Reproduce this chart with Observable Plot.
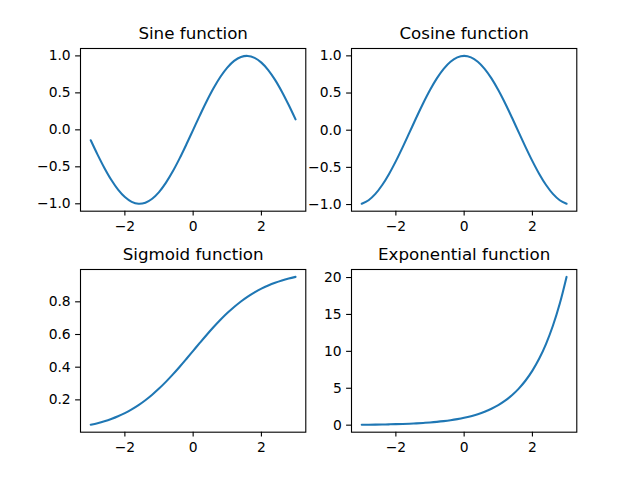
<!DOCTYPE html>
<html>
<head>
<meta charset="utf-8">
<script src="https://cdn.jsdelivr.net/npm/d3@7"></script>
<script src="https://cdn.jsdelivr.net/npm/@observablehq/plot@0.6"></script>
<style>
  html, body { margin: 0; padding: 0; background: white; }
  #fig { position: relative; width: 640px; height: 480px; background: white; overflow: hidden; }
  #fig > svg { position: absolute; }
</style>
</head>
<body>
<div id="fig"></div>
<script>
// ---- data ----
const xs = [-3.0, -2.8, -2.6, -2.4, -2.2, -2.0, -1.8, -1.6, -1.4, -1.2, -1.0, -0.8, -0.6, -0.4, -0.2, 0.0,
            0.2, 0.4, 0.6, 0.8, 1.0, 1.2, 1.4, 1.6, 1.8, 2.0, 2.2, 2.4, 2.6, 2.8, 3.0];
const sineValues = [-0.1411, -0.3350, -0.5155, -0.6755, -0.8085, -0.9093, -0.9738, -0.9996, -0.9854, -0.9320, -0.8415, -0.7174, -0.5646, -0.3894, -0.1987, 0.0,
                    0.1987, 0.3894, 0.5646, 0.7174, 0.8415, 0.9320, 0.9854, 0.9996, 0.9738, 0.9093, 0.8085, 0.6755, 0.5155, 0.3350, 0.1411];
const cosineValues = [-0.9900, -0.9422, -0.8569, -0.7374, -0.5885, -0.4161, -0.2272, -0.0292, 0.1700, 0.3624, 0.5403, 0.6967, 0.8253, 0.9211, 0.9801, 1.0,
                      0.9801, 0.9211, 0.8253, 0.6967, 0.5403, 0.3624, 0.1700, -0.0292, -0.2272, -0.4161, -0.5885, -0.7374, -0.8569, -0.9422, -0.9900];
const sigmoidValues = [0.0474, 0.0573, 0.0691, 0.0832, 0.0998, 0.1192, 0.1419, 0.1680, 0.1978, 0.2315, 0.2689, 0.3100, 0.3543, 0.4013, 0.4502, 0.5,
                       0.5498, 0.5987, 0.6457, 0.6900, 0.7311, 0.7685, 0.8022, 0.8320, 0.8581, 0.8808, 0.9002, 0.9168, 0.9309, 0.9427, 0.9526];
const expValues = [0.0498, 0.0608, 0.0743, 0.0907, 0.1108, 0.1353, 0.1653, 0.2019, 0.2466, 0.3012, 0.3679, 0.4493, 0.5488, 0.6703, 0.8187, 1.0,
                   1.2214, 1.4918, 1.8221, 2.2255, 2.7183, 3.3201, 4.0552, 4.9530, 6.0496, 7.3891, 9.0250, 11.0232, 13.4637, 16.4446, 20.0855];

const titles = ["Sine function", "Cosine function", "Sigmoid function", "Exponential function"];
const xTicks = [-2, 0, 2];
const sineTicks = [-1.0, -0.5, 0.0, 0.5, 1.0];
const cosineTicks = [-1.0, -0.5, 0.0, 0.5, 1.0];
const sigmoidTicks = [0.2, 0.4, 0.6, 0.8];
const expTicks = [0, 5, 10, 15, 20];

// ---- layout ----
const FW = 225.3, FH = 162.7;          // frame size
const ML = 60, MR = 12, MT = 40, MB = 40;
const BLUE = "#1f77b4";

function panel(ys, title, fx, fy, yDomain, yTicks, yFmt) {
  const data = xs.map((x, i) => ({x, y: ys[i]}));
  const svg = Plot.plot({
    width: ML + FW + MR,
    height: MT + FH + MB,
    marginLeft: ML, marginRight: MR, marginTop: MT, marginBottom: MB,
    style: {fontFamily: "DejaVu Sans", fontSize: "13.9px", color: "black", background: "transparent", overflow: "visible"},
    x: {domain: [-3.3, 3.3], label: null},
    y: {domain: yDomain, label: null},
    marks: [
      Plot.axisX({ticks: xTicks, tickSize: 4.9, tickPadding: 4.9, tickFormat: d3.format("d"), label: null, strokeWidth: 1.1}),
      Plot.axisY({ticks: yTicks, tickSize: 4.9, tickPadding: 4.9, tickFormat: d3.format(yFmt), label: null, strokeWidth: 1.1}),
      Plot.line(data, {x: "x", y: "y", stroke: BLUE, strokeWidth: 2.08, curve: "catmull-rom"}),
      Plot.frame({stroke: "black", strokeWidth: 1.1}),
      Plot.text([title], {frameAnchor: "top", dy: -14.5, lineAnchor: "middle", fontSize: 16.7, fill: "black"})
    ]
  });
  svg.style.left = (fx - ML) + "px";
  svg.style.top = (fy - MT) + "px";
  document.getElementById("fig").appendChild(svg);
}

panel(sineValues, titles[0], 80, 48.3, [-1.1, 1.1], sineTicks, ".1f");
panel(cosineValues, titles[1], 351.3, 48.3, [-1.0895, 1.099], cosineTicks, ".1f");
panel(sigmoidValues, titles[2], 80, 269.3, [0.0022, 0.9978], sigmoidTicks, ".1f");
panel(expValues, titles[3], 351.3, 269.3, [-0.952, 21.087], expTicks, "d");
</script>
</body>
</html>
